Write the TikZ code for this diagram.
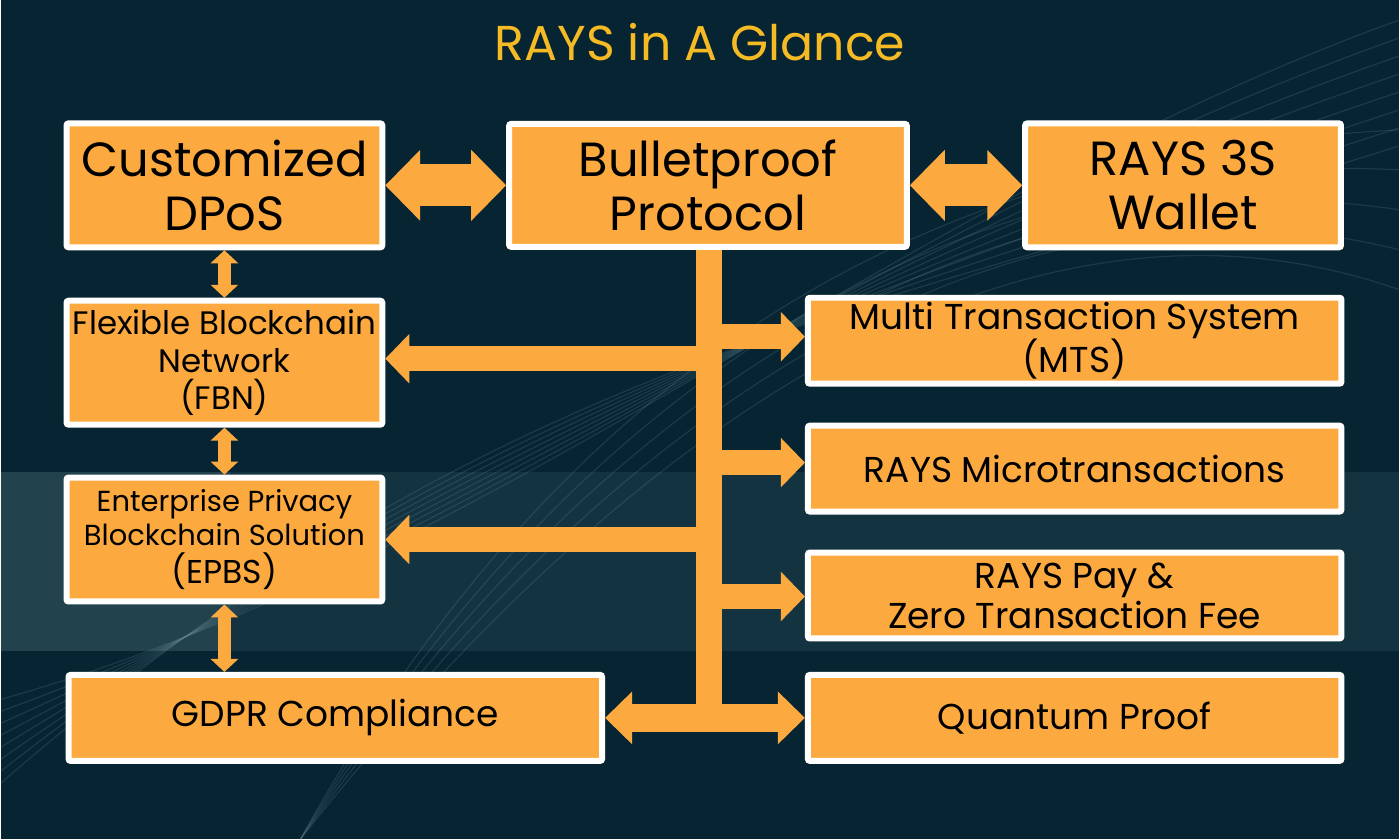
\documentclass[tikz,border=0pt]{standalone}
\usepackage{fontspec}
\setmainfont{Poppins}
\usetikzlibrary{arrows.meta,positioning}
\definecolor{navy}{RGB}{7,36,50}
\definecolor{rayorange}{RGB}{252,170,64}
\definecolor{raygold}{RGB}{245,186,36}
\definecolor{mist}{RGB}{120,160,170}
\tikzset{
  box/.style={draw=white, line width=6pt, fill=rayorange, rounded corners=2pt,
    align=center, text=black, inner sep=0pt},
  bigfont/.style={font=\fontsize{48}{54}\selectfont},
  midfont/.style={font=\fontsize{32.5}{38}\selectfont},
  smallfont/.style={font=\fontsize{29}{34}\selectfont},
  widefont/.style={font=\fontsize{36}{40}\selectfont},
  wide/.style={box, widefont, minimum width=534pt, minimum height=86pt},
  side/.style={box, minimum width=316pt, minimum height=124pt},
  bigarrow/.style={rayorange, line width=42pt,
    {Triangle[length=35pt,width=69pt]}-{Triangle[length=35pt,width=69pt]}},
  uparrow/.style={rayorange, line width=13pt,
    {Triangle[length=13pt,width=27pt]}-{Triangle[length=13pt,width=27pt]}},
  branch/.style={rayorange, line width=25pt, -{Triangle[length=24pt,width=48pt]}},
  swoosh/.style={mist, opacity=0.18, line width=1.2pt}
}
\begin{document}
\begin{tikzpicture}[x=1pt,y=-1pt]
% background
\fill[navy] (0,0) rectangle (1400,840);
\fill[mist, opacity=0.12] (0,472) rectangle (1400,652);
\fill[mist, opacity=0.14] (0,472) rectangle (230,652);
\foreach \s in {0,30,...,210} {
  \draw[swoosh] (0,700+\s*0.4) .. controls (500,560-\s) and (900,200+\s*0.5) .. (1400,20+\s*0.6);
}
\foreach \s in {0,40,...,160} {
  \draw[swoosh] (300,840) .. controls (600,300+\s) and (1000,150) .. (1400,130+\s);
}

% title
\node[text=raygold, font=\fontsize{49}{56}\selectfont] (title) at (700,42) {RAYS in A Glance};

% top row
\node[side, bigfont] (dpos) at (224,185.5) {Customized\\DPoS};
\node[box, bigfont, minimum width=398pt, minimum height=123pt] (bp) at (708,185.5) {Bulletproof\\Protocol};
\node[side, bigfont] (wallet) at (1183.5,185.5) {RAYS 3S\\Wallet};

% left column
\node[side, midfont] (fbn) at (224,363) {Flexible Blockchain\\Network\\(FBN)};
\node[side, smallfont] (epbs) at (224,540) {Enterprise Privacy\\Blockchain Solution\\[5pt]{\fontsize{33}{38}\selectfont(EPBS)}};
\node[wide] (gdpr) at (335,718.5) {GDPR Compliance};

% right column
\node[wide] (mts) at (1075,341) {Multi Transaction System\\(MTS)};
\node[wide] (micro) at (1075,469) {RAYS Microtransactions};
\node[wide] (pay) at (1075,596) {RAYS Pay \&\\Zero Transaction Fee};
\node[wide] (qp) at (1075,718.5) {Quantum Proof};

% top links
\draw[bigarrow] (dpos.east) -- (bp.west);
\draw[bigarrow] (bp.east) -- (wallet.west);

% left links
\draw[uparrow] (dpos.south) -- (fbn.north);
\draw[uparrow] (fbn.south) -- (epbs.north);
\draw[uparrow] (epbs.south) -- (epbs.south |- gdpr.north);

% trunk
\coordinate (foot) at (709,717);
\draw[rayorange, line width=27pt] (bp.south -| foot) -- (foot);
\draw[branch] (foot |- 0,337) -- (mts.west |- 0,337);
\draw[branch] (foot |- 0,463) -- (micro.west |- 0,463);
\draw[branch] (foot |- 0,597) -- (pay.west |- 0,597);
\draw[branch] (foot |- 0,359) -- (fbn.east |- 0,359);
\draw[branch] (foot |- 0,540) -- (epbs.east);
\draw[rayorange, line width=28pt,
  {Triangle[length=27pt,width=51pt]}-{Triangle[length=27pt,width=51pt]}] (gdpr.east) -- (qp.west);
\end{tikzpicture}
\end{document}
